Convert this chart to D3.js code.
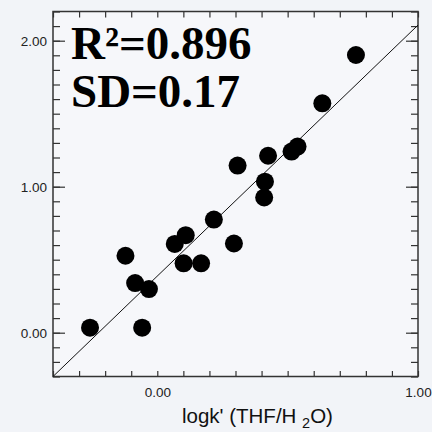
<!DOCTYPE html>
<html>
<head>
<meta charset="utf-8">
<script src="https://cdn.jsdelivr.net/npm/d3@7"></script>
<style>
  body { margin: 0; background: #f2f4f8; }
  svg { display: block; }
</style>
</head>
<body>
<div id="chart"></div>
<script>
// observed points (x: logk' THF/H2O, y: predicted)
const xVals = [-0.258, -0.058, -0.085, -0.032, -0.122, 0.067, 0.109, 0.101, 0.168, 0.217,
               0.294, 0.410, 0.413, 0.308, 0.425, 0.515, 0.538, 0.633, 0.762]
const yVals = [0.034, 0.034, 0.340, 0.299, 0.527, 0.608, 0.668, 0.475, 0.475, 0.775,
               0.611, 0.926, 1.034, 1.145, 1.212, 1.241, 1.275, 1.571, 1.902]

// fitted line ends
const lineX = [-0.4, 1.0]
const lineY = [-0.3, 2.107]

const xMajor = [0, 1]
const yMajor = [0, 1, 2]
const xMinor = d3.range(-4, 11).map(i => i / 10)
const yMinor = d3.range(-3, 23).map(i => i / 10)

const statLines = ['R²=0.896', 'SD=0.17']

const width = 432, height = 432
const pLeft = 53, pRight = 418, pTop = 11.5, pBottom = 376.5

const svg = d3.select('#chart').append('svg')
  .attr('width', width)
  .attr('height', height)

const xScale = d3.scaleLinear().domain([-0.4, 1.0]).range([pLeft, pRight])
const yScale = d3.scaleLinear().domain([-0.3, 2.2]).range([pBottom, pTop])

// plot area
svg.append('rect')
  .attr('x', pLeft).attr('y', pTop)
  .attr('width', pRight - pLeft).attr('height', pBottom - pTop)
  .attr('fill', '#f6f7fa')

// ticks, all pointing inward
function styleAxis(g) {
  g.select('.domain').remove()
  g.selectAll('line').attr('stroke', '#333').attr('stroke-width', 1.2)
  g.selectAll('text')
    .attr('font-family', 'Liberation Sans, Arial, sans-serif')
    .attr('font-size', 13.5)
    .attr('fill', '#222')
}

svg.append('g').attr('transform', `translate(${pLeft},0)`)
  .call(d3.axisLeft(yScale).tickValues(yMinor).tickSize(-7).tickFormat(''))
  .call(styleAxis)
svg.append('g').attr('transform', `translate(${pLeft},0)`)
  .call(d3.axisLeft(yScale).tickValues(yMajor).tickSize(-12).tickPadding(6).tickFormat(d3.format('.2f')))
  .call(styleAxis)

svg.append('g').attr('transform', `translate(${pRight},0)`)
  .call(d3.axisRight(yScale).tickValues(yMinor).tickSize(-7).tickFormat(''))
  .call(styleAxis)
svg.append('g').attr('transform', `translate(${pRight},0)`)
  .call(d3.axisRight(yScale).tickValues(yMajor).tickSize(-12).tickFormat(''))
  .call(styleAxis)

svg.append('g').attr('transform', `translate(0,${pBottom})`)
  .call(d3.axisBottom(xScale).tickValues(xMinor).tickSize(-5.5).tickFormat(''))
  .call(styleAxis)
svg.append('g').attr('transform', `translate(0,${pBottom})`)
  .call(d3.axisBottom(xScale).tickValues(xMajor).tickSize(0).tickPadding(11).tickFormat(d3.format('.2f')))
  .call(styleAxis)

svg.append('g').attr('transform', `translate(0,${pTop})`)
  .call(d3.axisTop(xScale).tickValues(xMinor).tickSize(-6).tickFormat(''))
  .call(styleAxis)

// frame
svg.append('rect')
  .attr('x', pLeft).attr('y', pTop)
  .attr('width', pRight - pLeft).attr('height', pBottom - pTop)
  .attr('fill', 'none')
  .attr('stroke', '#333')
  .attr('stroke-width', 1.5)

// line
svg.append('line')
  .attr('x1', xScale(lineX[0])).attr('y1', yScale(lineY[0]))
  .attr('x2', xScale(lineX[1])).attr('y2', yScale(lineY[1]))
  .attr('stroke', '#111')
  .attr('stroke-width', 1)

// points
svg.selectAll('circle.pt')
  .data(xVals.map((x, i) => [x, yVals[i]]))
  .enter()
  .append('circle')
  .attr('class', 'pt')
  .attr('cx', d => xScale(d[0]))
  .attr('cy', d => yScale(d[1]))
  .attr('r', 9)
  .attr('fill', '#000')

// stats
svg.selectAll('text.stat')
  .data(statLines)
  .enter()
  .append('text')
  .attr('class', 'stat')
  .attr('x', 71)
  .attr('y', (d, i) => 58.5 + i * 48.3)
  .attr('font-family', 'Liberation Serif, Times New Roman, serif')
  .attr('font-weight', 'bold')
  .attr('font-size', 47)
  .attr('fill', '#000')
  .text(d => d)

// x axis title
const title = svg.append('text')
  .attr('x', 182)
  .attr('y', 423)
  .attr('font-family', 'Liberation Sans, Arial, sans-serif')
  .attr('font-size', 20.5)
  .attr('fill', '#111')
title.append('tspan').text("logk' (THF/H ")
title.append('tspan').attr('font-size', 14.5).attr('dy', 5).text('2')
title.append('tspan').attr('dy', -5).text('O)')
</script>
</body>
</html>
